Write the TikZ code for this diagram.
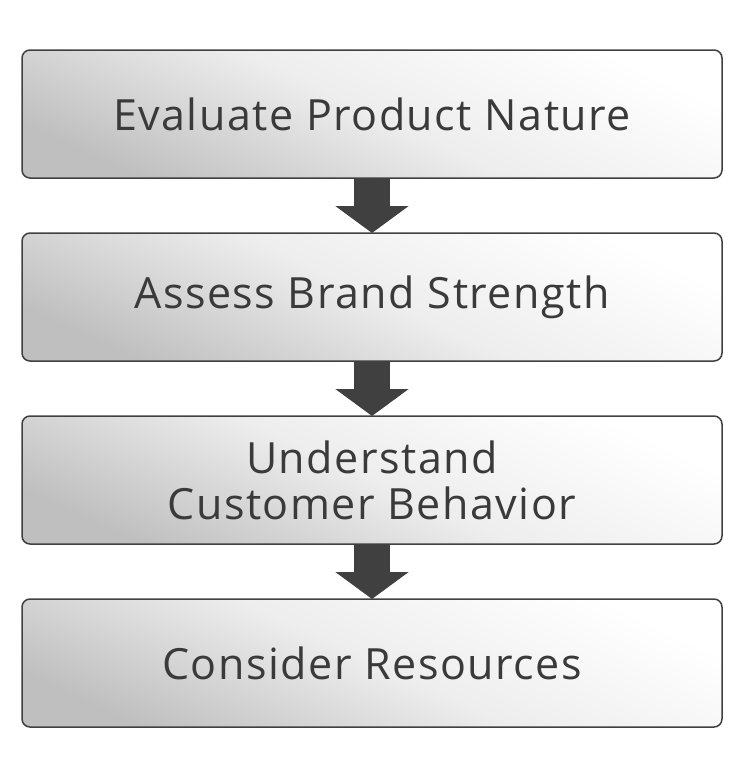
\documentclass[tikz,border=0pt]{standalone}
\usepackage{fontspec}
\setmainfont[LetterSpace=3.5]{Open Sans}
\usetikzlibrary{arrows.meta, positioning, shadings}

\definecolor{stepgray}{HTML}{404040}
\definecolor{textgray}{HTML}{3A3A3A}

\tikzset{
    stepbox/.style={draw=stepgray, line width=1.5pt, rounded corners=8pt,
        minimum width=700pt, minimum height=128pt, outer sep=0pt,
        shading=axis, top color=white, bottom color=black!25, middle color=black!7,
        shading angle=-25,
        text=textgray, align=center, font=\fontsize{43}{46}\selectfont},
    stepflow/.style={draw=stepgray, line width=36pt,
        -{Triangle[length=27pt, width=72pt]}}
}

\begin{document}
\begin{tikzpicture}[x=1pt, y=-1pt]

        \useasboundingbox (0,0) rectangle (742,777);

        % --- steps ---
        \node[stepbox] (nature) at (372,114) {Evaluate Product Nature};
        \node[stepbox, below=55pt of nature] (brand) {Assess Brand Strength};
        \node[stepbox, below=55pt of brand] (customer) {Understand\\Customer Behavior};
        \node[stepbox, below=55pt of customer] (resources) {Consider Resources};

        % --- arrows between steps ---
        \draw[stepflow, shorten <=0.75pt] (nature.south) -- (brand.north);
        \draw[stepflow, shorten <=0.75pt] (brand.south) -- (customer.north);
        \draw[stepflow, shorten <=0.75pt] (customer.south) -- (resources.north);

    \end{tikzpicture}
\end{document}
